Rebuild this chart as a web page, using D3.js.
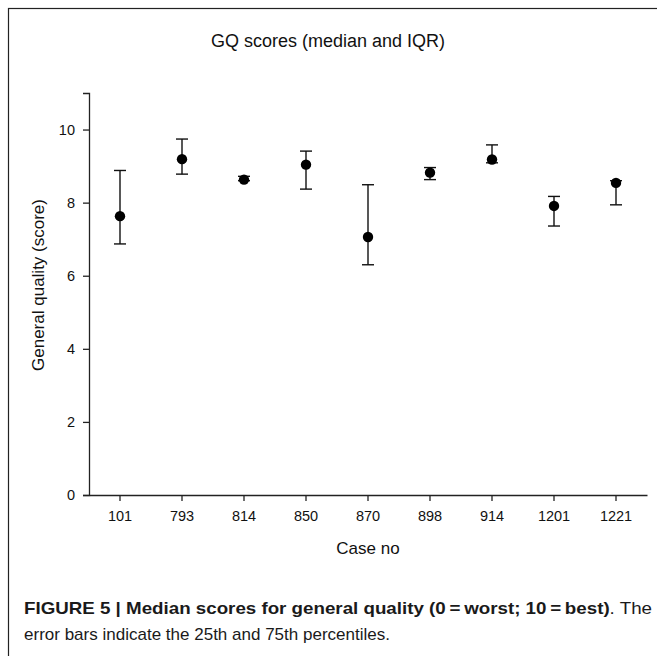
<!DOCTYPE html>
<html>
<head>
<meta charset="utf-8">
<script src="https://cdn.jsdelivr.net/npm/d3@7"></script>
<style>
  html, body { margin: 0; padding: 0; background: #fff; }
  svg { display: block; }
</style>
</head>
<body>
<svg id="chart" width="657" height="656"></svg>
<script>
const cases   = ["101", "793", "814", "850", "870", "898", "914", "1201", "1221"];
const medians = [7.63, 9.19, 8.63, 9.04, 7.06, 8.82, 9.18, 7.91, 8.54];
const q25     = [6.87, 8.78, 8.60, 8.37, 6.30, 8.63, 9.09, 7.36, 7.94];
const q75     = [8.88, 9.74, 8.72, 9.41, 8.49, 8.96, 9.58, 8.17, 8.60];
const yTicks  = [0, 2, 4, 6, 8, 10];

const svg = d3.select("#chart");
const font = "'Liberation Sans', Arial, sans-serif";

// outer frame
svg.append("rect").attr("x", 8.5).attr("y", 8.5).attr("width", 700).attr("height", 700)
  .attr("fill", "none").attr("stroke", "#222").attr("stroke-width", 1.2);

const mLeft = 89, mRight = 647, mTop = 93, mBottom = 495;

const x = d3.scaleBand().domain(cases).range([mLeft, mRight]).padding(0);
const y = d3.scaleLinear().domain([0, 11]).range([mBottom, mTop]);

// y axis
const yAxis = d3.axisLeft(y).tickValues(yTicks).tickSize(6).tickPadding(8);
const gy = svg.append("g").attr("transform", `translate(${mLeft},0)`).call(yAxis);
gy.select(".domain").attr("stroke", "#222").attr("stroke-width", 1.3);
gy.selectAll(".tick line").attr("stroke", "#222").attr("stroke-width", 1.3);
gy.selectAll(".tick text").attr("font-family", font).attr("font-size", 14.5).attr("fill", "#111");

// x axis
const xAxis = d3.axisBottom(x).tickSize(6).tickSizeOuter(0).tickPadding(10);
const gx = svg.append("g").attr("transform", `translate(0,${mBottom})`).call(xAxis);
gx.select(".domain").attr("stroke", "#222").attr("stroke-width", 1.3);
gx.selectAll(".tick line").attr("stroke", "#222").attr("stroke-width", 1.3);
gx.selectAll(".tick text").attr("font-family", font).attr("font-size", 14.5).attr("fill", "#111");

// error bars
const data = cases.map((c, i) => ({ c, m: medians[i], lo: q25[i], hi: q75[i] }));
const cx = d => x(d.c) + x.bandwidth() / 2;
const g = svg.append("g");
g.selectAll("line.v").data(data).join("line").attr("class", "v")
  .attr("x1", cx).attr("x2", cx).attr("y1", d => y(d.lo)).attr("y2", d => y(d.hi))
  .attr("stroke", "#111").attr("stroke-width", 1.4);
g.selectAll("line.hi").data(data).join("line").attr("class", "hi")
  .attr("x1", d => cx(d) - 6).attr("x2", d => cx(d) + 6).attr("y1", d => y(d.hi)).attr("y2", d => y(d.hi))
  .attr("stroke", "#111").attr("stroke-width", 1.4);
g.selectAll("line.lo").data(data).join("line").attr("class", "lo")
  .attr("x1", d => cx(d) - 6).attr("x2", d => cx(d) + 6).attr("y1", d => y(d.lo)).attr("y2", d => y(d.lo))
  .attr("stroke", "#111").attr("stroke-width", 1.4);
g.selectAll("circle").data(data).join("circle")
  .attr("cx", cx).attr("cy", d => y(d.m)).attr("r", 5.2).attr("fill", "#000");

// title
svg.append("text").attr("x", 328).attr("y", 47).attr("text-anchor", "middle")
  .attr("font-family", font).attr("font-size", 18).attr("fill", "#111")
  .text("GQ scores (median and IQR)");

// axis titles
svg.append("text").attr("x", (mLeft + mRight) / 2).attr("y", 554).attr("text-anchor", "middle")
  .attr("font-family", font).attr("font-size", 17).attr("fill", "#111").text("Case no");
svg.append("text").attr("transform", "translate(44,285) rotate(-90)").attr("text-anchor", "middle")
  .attr("font-family", font).attr("font-size", 17).attr("fill", "#111").text("General quality (score)");

// caption
const capFont = "'Liberation Sans Narrow', 'Liberation Sans', Arial, sans-serif";
const cap1 = svg.append("text").attr("x", 24).attr("y", 614)
  .attr("font-family", capFont).attr("font-size", 17).attr("fill", "#1a1a1a");
cap1.append("tspan").attr("font-weight", "bold").text("FIGURE 5 | Median scores for general quality (0\u2009=\u2009worst; 10\u2009=\u2009best)");
cap1.append("tspan").text(". The");
cap1.attr("textLength", 628).attr("lengthAdjust", "spacingAndGlyphs");
const cap2 = svg.append("text").attr("x", 24).attr("y", 640)
  .attr("font-family", capFont).attr("font-size", 17).attr("fill", "#1a1a1a")
  .text("error bars indicate the 25th and 75th percentiles.");
cap2.attr("textLength", 366).attr("lengthAdjust", "spacingAndGlyphs");
</script>
</body>
</html>
